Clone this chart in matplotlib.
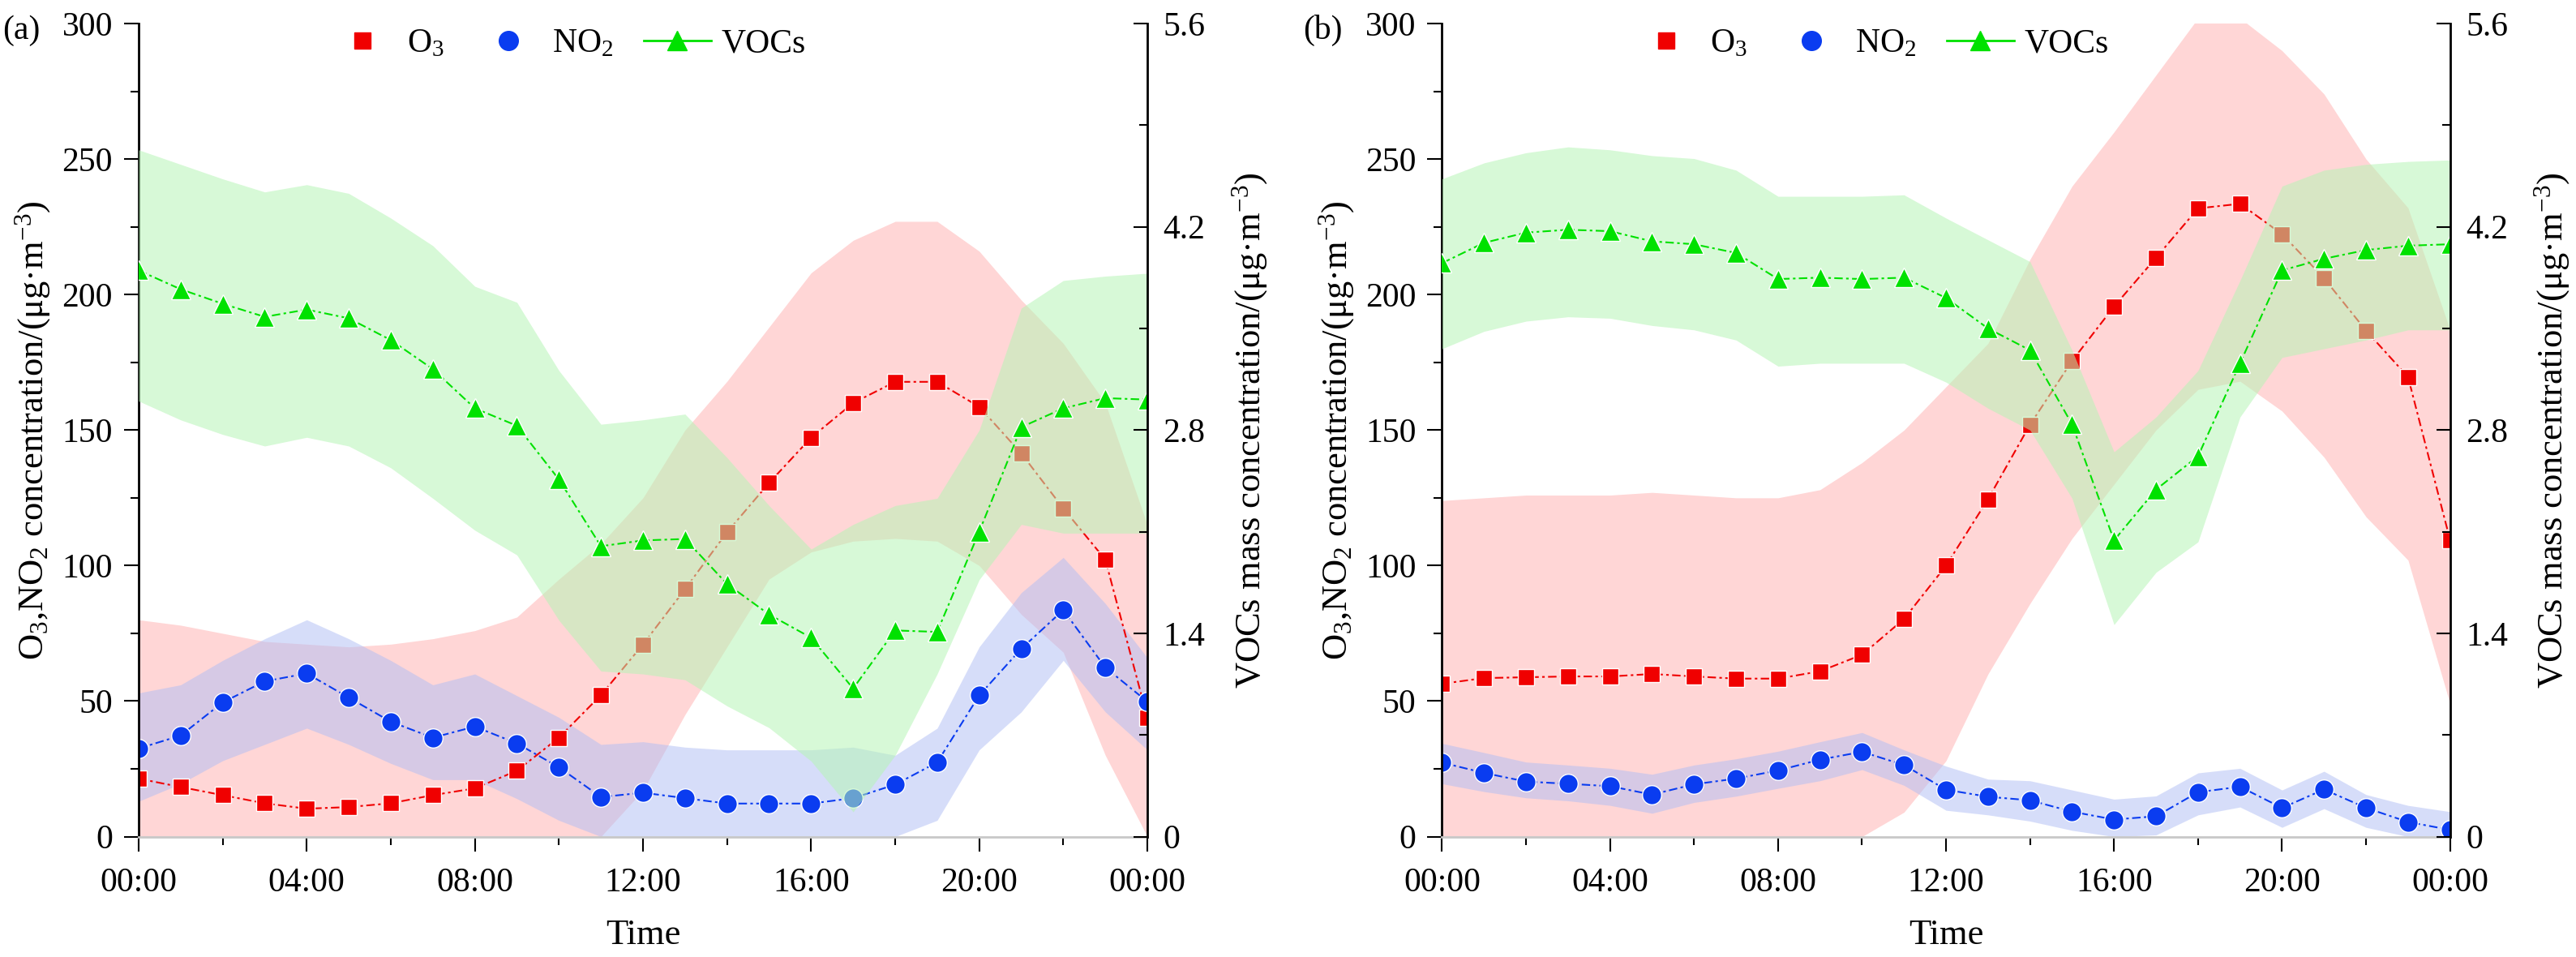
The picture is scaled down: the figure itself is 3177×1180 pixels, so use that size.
import numpy as np
import matplotlib
matplotlib.use("Agg")
import matplotlib.pyplot as plt
from matplotlib.lines import Line2D
from matplotlib.ticker import MultipleLocator

plt.rcParams['font.family'] = 'Liberation Serif'
plt.rcParams['mathtext.fontset'] = 'custom'
plt.rcParams['mathtext.rm'] = 'Liberation Serif'
plt.rcParams['mathtext.default'] = 'regular'

# hourly values, 00:00 .. 00:00 (next day)
hours = np.arange(25)
hour_ticks = [0, 4, 8, 12, 16, 20, 24]
hour_labels = ["00:00", "04:00", "08:00", "12:00", "16:00", "20:00", "00:00"]
vocs_ticks = [0, 1.4, 2.8, 4.2, 5.6]
vocs_labels = ["0", "1.4", "2.8", "4.2", "5.6"]

# panel (a)
o3_a = [21.4, 18.3, 15.3, 12.3, 10.3, 10.9, 12.3, 15.3, 17.8, 24.3, 36.5, 52.2, 70.9,
        91.3, 112.3, 130.5, 147.2, 160.0, 167.8, 167.8, 158.6, 141.4, 121.1, 102.2, 44.0]
o3_a_hi = [80, 78, 75, 72, 71, 70, 71, 73, 76, 81, 95, 108, 125,
           150, 168, 188, 208, 220, 227, 227, 216, 198, 182, 160, 115]
o3_a_lo = [0, 0, 0, 0, 0, 0, 0, 0, 0, 0, 0, 0, 17,
           45, 70, 95, 105, 109, 110, 109, 100, 82, 68, 30, 0]
no2_a = [32.5, 37.3, 49.5, 57.3, 60.2, 51.3, 42.4, 36.5, 40.6, 34.4, 25.6, 14.6, 16.2,
         14.2, 12.2, 12.2, 12.2, 14.2, 19.2, 27.4, 52.1, 69.3, 83.6, 62.4, 49.8]
no2_a_hi = [53, 56, 65, 73, 80, 73, 65, 56, 60, 52, 44, 34, 35,
            33, 32, 32, 32, 33, 30, 40, 70, 90, 103, 86, 66]
no2_a_lo = [13, 19.5, 28, 34, 40, 34, 27, 21, 21, 14, 6, 0, 0,
            0, 0, 0, 0, 0, 0, 6, 32, 46, 65, 46, 32]
vocs_a = [3.90, 3.77, 3.67, 3.58, 3.63, 3.57, 3.42, 3.22, 2.95, 2.83, 2.46, 2.00, 2.04,
          2.05, 1.74, 1.53, 1.37, 1.02, 1.42, 1.41, 2.10, 2.82, 2.95, 3.02, 3.01]
vocs_a_hi = [4.73, 4.63, 4.53, 4.44, 4.49, 4.43, 4.26, 4.07, 3.79, 3.68, 3.21, 2.84, 2.87,
             2.91, 2.61, 2.28, 1.98, 2.15, 2.28, 2.33, 2.80, 3.64, 3.83, 3.86, 3.88]
vocs_a_lo = [3.00, 2.87, 2.77, 2.69, 2.75, 2.69, 2.54, 2.33, 2.11, 1.94, 1.49, 1.14, 1.12,
             1.08, 0.90, 0.75, 0.52, 0.17, 0.56, 1.12, 1.77, 2.15, 2.09, 2.09, 2.09]

# panel (b)
o3_b = [56.4, 58.5, 58.8, 59.1, 59.1, 60.0, 59.1, 58.3, 58.3, 61.0, 67.1, 80.3, 100.0,
        124.5, 152.0, 175.5, 195.6, 213.6, 231.8, 233.5, 222.3, 206.0, 186.7, 169.6, 109.5]
o3_b_hi = [124, 125, 126, 126, 126, 127, 126, 125, 125, 128, 138, 150, 166,
           182, 213, 240, 260, 281, 302, 302, 290, 274, 250, 232, 187]
o3_b_lo = [0, 0, 0, 0, 0, 0, 0, 0, 0, 0, 0, 9, 28,
           60, 86, 110, 130, 150, 165, 168, 157, 140, 118, 102, 49]
no2_b = [27.3, 23.5, 20.3, 19.5, 18.6, 15.5, 19.3, 21.4, 24.4, 28.4, 31.3, 26.4, 17.3,
         14.7, 13.4, 9.2, 6.3, 7.5, 16.4, 18.4, 10.6, 17.4, 10.6, 5.4, 2.5]
no2_b_hi = [34.4, 31, 27.5, 26.4, 25.2, 23, 26.4, 28.7, 31.5, 35, 38.4, 32, 26,
            21.2, 20.6, 17.2, 13.8, 15, 23.5, 25.2, 17.2, 24.1, 15.5, 11.5, 9.2]
no2_b_lo = [19.5, 16.6, 14.3, 13.2, 11.5, 8.6, 12.6, 14.9, 17.8, 20.6, 24.7, 18.9, 9.7,
            8, 5.7, 2.3, 0, 0.6, 8, 10.9, 3.4, 10.3, 3.4, 0, 0]
vocs_b = [3.95, 4.09, 4.16, 4.18, 4.17, 4.10, 4.08, 4.02, 3.84, 3.85, 3.84, 3.85, 3.71,
          3.50, 3.35, 2.84, 2.04, 2.39, 2.62, 3.26, 3.90, 3.98, 4.04, 4.07, 4.08]
vocs_b_hi = [4.53, 4.64, 4.71, 4.75, 4.73, 4.69, 4.67, 4.59, 4.41, 4.41, 4.41, 4.42, 4.26,
             4.11, 3.96, 3.35, 2.65, 2.89, 3.21, 3.83, 4.48, 4.59, 4.63, 4.65, 4.66]
vocs_b_lo = [3.36, 3.48, 3.55, 3.58, 3.57, 3.52, 3.49, 3.42, 3.24, 3.26, 3.26, 3.26, 3.13,
             2.95, 2.80, 2.33, 1.46, 1.82, 2.03, 2.89, 3.30, 3.36, 3.42, 3.49, 3.49]

RED = '#f00000'
BLUE = '#0a3cf0'
GREEN = '#00e100'
LS = (0, (5, 2, 1.5, 2))
FS = 30


def draw_panel(ax, o3, o3_lo, o3_hi, no2, no2_lo, no2_hi, vocs, vocs_lo, vocs_hi):
    ax.fill_between(hours, o3_lo, o3_hi, color='#ff0000', alpha=0.16, lw=0)
    ax.plot(hours, o3, color=RED, ls=LS, lw=1.5, marker='s', ms=15, mec='white', mew=1)
    ax.fill_between(hours, no2_lo, no2_hi, color='#afbdf5', alpha=0.5, lw=0)
    ax.plot(hours, no2, color=BLUE, ls=LS, lw=1.5, marker='o', ms=17, mec='white', mew=1)
    ax.set_xlim(0, 24)
    ax.set_ylim(0, 300)
    ax.set_xticks(hour_ticks, hour_labels)
    ax.xaxis.set_minor_locator(MultipleLocator(2))
    ax.yaxis.set_major_locator(MultipleLocator(50))
    ax.yaxis.set_minor_locator(MultipleLocator(25))
    ax.tick_params(axis='both', which='major', direction='out', length=13, width=1.5,
                   labelsize=FS, pad=10)
    ax.tick_params(axis='both', which='minor', direction='out', length=7, width=1.5)
    ax.tick_params(axis='x', which='major', pad=14)
    ax.spines['top'].set_visible(False)
    ax.spines['right'].set_visible(False)
    ax.spines['left'].set_linewidth(2)
    ax.spines['bottom'].set_color('#c8c8c8')
    ax.spines['bottom'].set_linewidth(2)
    ax.set_xlabel('Time', fontsize=32, labelpad=18)
    ax.set_ylabel(r'O$_3$,NO$_2$ concentration/(μg·m$^{-3}$)', fontsize=32, labelpad=8)

    ax2 = ax.twinx()
    ax2.fill_between(hours, vocs_lo, vocs_hi, color='#b6f5b6', alpha=0.55, lw=0)
    ax2.plot(hours, vocs, color=GREEN, ls=LS, lw=1.5, marker='^', ms=17, mec='white', mew=1)
    ax2.set_ylim(0, 5.6)
    ax2.set_yticks(vocs_ticks, vocs_labels)
    ax2.yaxis.set_minor_locator(MultipleLocator(0.7))
    ax2.tick_params(axis='y', which='major', direction='in', length=12, width=1.5,
                    labelsize=FS, pad=14)
    ax2.tick_params(axis='y', which='minor', direction='in', length=7, width=1.5)
    for s in ['top', 'left', 'bottom']:
        ax2.spines[s].set_visible(False)
    ax2.spines['right'].set_linewidth(2)
    ax2.set_ylabel(r'VOCs mass concentration/(μg·m$^{-3}$)', fontsize=32, labelpad=22)

    handles = [
        Line2D([], [], color=RED, ls='none', marker='s', ms=15),
        Line2D([], [], color=BLUE, ls='none', marker='o', ms=17),
        Line2D([], [], color=GREEN, ls='-', lw=2, marker='^', ms=17),
    ]
    ax2.legend(handles, [r'O$_3$', r'NO$_2$', 'VOCs'], ncol=3, frameon=False,
               fontsize=FS, loc='center', bbox_to_anchor=(0.425, 0.975),
               handlelength=2.0, handletextpad=0.3, columnspacing=0.9)
    return ax2


fig = plt.figure(figsize=(31.77, 11.8), dpi=100)
ax_a = fig.add_axes([0.0538, 0.1258, 0.3916, 0.8496])
ax_b = fig.add_axes([0.5598, 0.1258, 0.3913, 0.8496])

draw_panel(ax_a, o3_a, o3_a_lo, o3_a_hi, no2_a, no2_a_lo, no2_a_hi,
           vocs_a, vocs_a_lo, vocs_a_hi)
draw_panel(ax_b, o3_b, o3_b_lo, o3_b_hi, no2_b, no2_b_lo, no2_b_hi,
           vocs_b, vocs_b_lo, vocs_b_hi)

fig.text(0.001, 0.968, '(a)', fontsize=FS, va='center', ha='left')
fig.text(0.506, 0.968, '(b)', fontsize=FS, va='center', ha='left')

fig.savefig('out.png', dpi=100)
